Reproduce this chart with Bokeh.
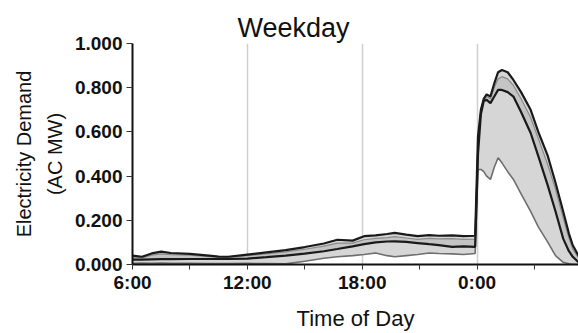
from bokeh.plotting import figure
from bokeh.models import Range1d, FixedTicker, Title, ColumnDataSource
from bokeh.embed import file_html
from bokeh.resources import INLINE

# Time of day in hours (24+ = after midnight)
hours = [6.0, 6.5, 7.0, 7.5, 8.0, 9.0, 10.0, 10.5, 11.0, 12.0, 13.0, 14.0, 15.0, 16.0,
         16.7, 17.5, 18.1, 18.7, 19.3, 19.7, 20.3, 20.9, 21.5, 22.0, 22.7, 23.3, 23.9,
         24.05, 24.2, 24.35, 24.5, 24.7, 24.9, 25.1, 25.3, 25.6, 25.9, 26.3, 26.8, 27.2,
         27.7, 28.1, 28.5, 28.8, 29.0, 29.3]

demand_max = [0.040, 0.035, 0.050, 0.058, 0.052, 0.048, 0.040, 0.036, 0.035, 0.045, 0.055,
              0.065, 0.079, 0.095, 0.112, 0.108, 0.128, 0.132, 0.138, 0.143, 0.135, 0.128,
              0.133, 0.130, 0.132, 0.128, 0.130, 0.58, 0.70, 0.75, 0.77, 0.76, 0.82, 0.87,
              0.88, 0.87, 0.835, 0.78, 0.70, 0.60, 0.49, 0.37, 0.24, 0.14, 0.087, 0.04]

demand_p90 = [0.034, 0.030, 0.042, 0.048, 0.045, 0.042, 0.036, 0.033, 0.032, 0.040, 0.048,
              0.057, 0.069, 0.083, 0.097, 0.097, 0.112, 0.118, 0.122, 0.126, 0.120, 0.114,
              0.118, 0.116, 0.117, 0.114, 0.115, 0.55, 0.69, 0.745, 0.76, 0.75, 0.80, 0.84,
              0.85, 0.84, 0.81, 0.75, 0.665, 0.57, 0.45, 0.34, 0.21, 0.12, 0.07, 0.03]

demand_mean = [0.022, 0.022, 0.023, 0.024, 0.024, 0.025, 0.025, 0.025, 0.025, 0.027, 0.033,
               0.040, 0.049, 0.060, 0.070, 0.082, 0.092, 0.100, 0.104, 0.105, 0.102, 0.097,
               0.092, 0.088, 0.080, 0.082, 0.080, 0.50, 0.68, 0.74, 0.745, 0.73, 0.76, 0.79,
               0.79, 0.78, 0.76, 0.69, 0.595, 0.49, 0.356, 0.24, 0.117, 0.06, 0.035, 0.01]

demand_min = [0.005, 0.006, 0.005, 0.006, 0.005, 0.005, 0.004, 0.004, 0.004, 0.005, 0.004,
              0.003, 0.015, 0.028, 0.035, 0.040, 0.045, 0.052, 0.040, 0.035, 0.040, 0.045,
              0.052, 0.050, 0.048, 0.045, 0.050, 0.43, 0.43, 0.42, 0.40, 0.385, 0.44, 0.483,
              0.46, 0.42, 0.385, 0.32, 0.24, 0.17, 0.10, 0.04, 0.01, 0.003, 0.0, 0.0]

x_ticks = [6, 12, 18, 24]
x_tick_labels = ["6:00", "12:00", "18:00", "0:00"]
x_minor = [9, 15, 21, 27]
y_ticks = [0.0, 0.2, 0.4, 0.6, 0.8, 1.0]
y_tick_labels = ["0.000", "0.200", "0.400", "0.600", "0.800", "1.000"]

src = ColumnDataSource(dict(x=hours, mx=demand_max, p90=demand_p90,
                            mean=demand_mean, mn=demand_min))

FONT = "Liberation Sans"

p = figure(width=578, height=333, output_backend="svg", toolbar_location=None,
           x_range=Range1d(6, 29.3), y_range=Range1d(0, 1.0),
           min_border_left=132, min_border_right=0, min_border_top=43,
           min_border_bottom=66)
p.outline_line_color = None
p.background_fill_color = "white"

p.title.text = "Weekday"
p.title.align = "left"
p.title.offset = 105
p.title.standoff = 1
p.title.text_font = FONT
p.title.text_font_size = "27px"
p.title.text_font_style = "normal"
p.title.text_color = "#111111"

p.varea(x="x", y1="mn", y2="mx", source=src, fill_color="#d6d6d6")
p.varea(x="x", y1="mean", y2="p90", source=src, fill_color="#c4c4c4")
p.line(x="x", y="mn", source=src, line_color="#6e6e6e", line_width=1.6)
p.line(x="x", y="p90", source=src, line_color="#8a8a8a", line_width=1.2)
p.line(x="x", y="mean", source=src, line_color="#1a1a1a", line_width=2.2)
p.line(x="x", y="mx", source=src, line_color="#1a1a1a", line_width=2.2)

# axes
p.xaxis.ticker = FixedTicker(ticks=x_ticks, minor_ticks=x_minor)
p.xaxis.major_label_overrides = dict(zip(x_ticks, x_tick_labels))
p.yaxis.ticker = FixedTicker(ticks=y_ticks)
p.yaxis.major_label_overrides = dict(zip(y_ticks, y_tick_labels))

for ax in (p.xaxis, p.yaxis):
    ax.axis_line_color = "#111111"
    ax.axis_line_width = 2
    ax.major_tick_line_color = "#333333"
    ax.minor_tick_line_color = "#333333"
    ax.major_tick_in = 0
    ax.minor_tick_in = 0
    ax.major_label_text_font = FONT
    ax.major_label_text_font_size = "19px"
    ax.major_label_text_font_style = "bold"
    ax.major_label_text_color = "#111111"
    ax.major_label_standoff = 4

p.xaxis.major_label_standoff = 2
p.xaxis.major_tick_out = 5
p.xaxis.minor_tick_out = 5
p.yaxis.major_tick_out = 6
p.yaxis.minor_tick_out = 0
p.xaxis.axis_label = "Time of Day"
p.xaxis.axis_label_text_font = FONT
p.xaxis.axis_label_text_font_size = "22px"
p.xaxis.axis_label_text_font_style = "normal"
p.xaxis.axis_label_text_color = "#111111"
p.xaxis.axis_label_standoff = 10

p.ygrid.visible = False
p.xgrid.grid_line_color = "#cfcfcf"
p.xgrid.grid_line_width = 1.5

yl2 = Title(text="(AC MW)", align="center", text_font=FONT, text_font_size="20px",
            text_font_style="normal", text_color="#111111", standoff=12)
yl1 = Title(text="Electricity Demand", align="center", text_font=FONT,
            text_font_size="20px", text_font_style="normal", text_color="#111111",
            standoff=2)
p.add_layout(yl2, "left")
p.add_layout(yl1, "left")

open("out.html", "w").write(file_html(p, INLINE))
